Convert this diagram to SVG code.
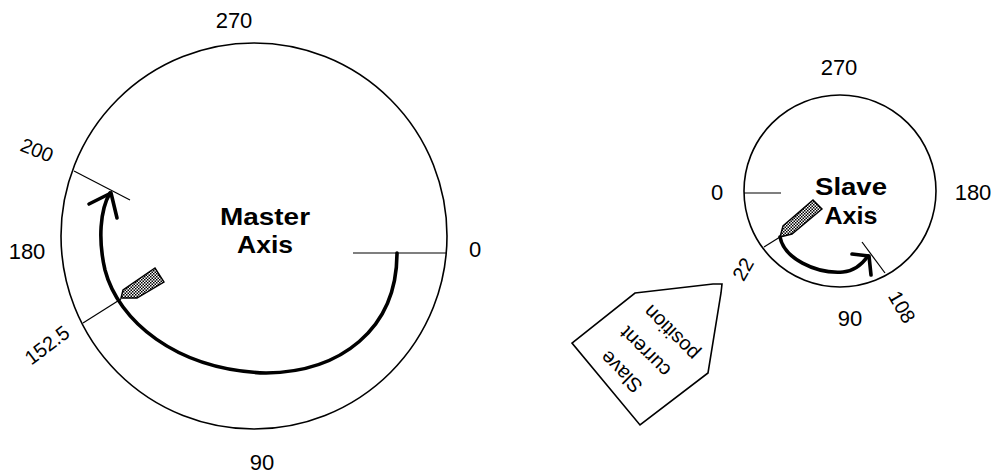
<svg xmlns="http://www.w3.org/2000/svg" width="995" height="475" viewBox="0 0 995 475">
<style>
.ring{fill:none;stroke:#000;stroke-width:1.6}
.tick{fill:none;stroke:#000;stroke-width:1.2}
.arc{fill:none;stroke:#000;stroke-width:3.6;stroke-linecap:round;stroke-linejoin:round}
.ptr{fill:url(#hatch);stroke:#000;stroke-width:1.4}
.num{font-family:"Liberation Sans",Arial,sans-serif;font-size:22px;fill:#000;text-anchor:middle}
.rot{font-family:"Liberation Sans",Arial,sans-serif;font-size:20px;fill:#000;text-anchor:middle}
.ttl{font-family:"Liberation Sans",Arial,sans-serif;font-size:24px;font-weight:bold;fill:#000;text-anchor:middle}
.cal{font-family:"Liberation Sans",Arial,sans-serif;font-size:20px;fill:#000;text-anchor:middle}
.box{fill:#fff;stroke:#000;stroke-width:1.6}
</style>
<defs>
<pattern id="hatch" width="3" height="3" patternUnits="userSpaceOnUse">
<rect width="3" height="3" fill="#fff"/>
<rect x="0" y="0" width="1.5" height="1.5" fill="#000"/>
<rect x="1.5" y="1.5" width="1.5" height="1.5" fill="#000"/>
</pattern>
</defs>

<g id="master-axis">
<circle class="ring" cx="254" cy="236" r="193"/>
<text class="ttl" x="265" y="225" textLength="90" lengthAdjust="spacingAndGlyphs">Master</text>
<text class="ttl" x="265" y="253" textLength="56" lengthAdjust="spacingAndGlyphs">Axis</text>
<text class="num" x="234" y="28">270</text>
<text class="num" x="262" y="470">90</text>
<text class="num" x="27" y="259">180</text>
<text class="num" x="475" y="257">0</text>
<g transform="translate(37,150) rotate(22)"><text class="rot" x="0" y="7">200</text></g>
<g transform="translate(47,345) rotate(-37)"><text class="rot" x="0" y="7">152.5</text></g>
<polygon class="ptr" points="121,298 123,290 155,268 164,282 137,298"/>
</g>

<g id="slave-axis">
<circle class="ring" cx="840" cy="191" r="96"/>
<text class="ttl" x="851" y="195" textLength="72" lengthAdjust="spacingAndGlyphs">Slave</text>
<text class="ttl" x="851" y="224" textLength="53" lengthAdjust="spacingAndGlyphs">Axis</text>
<text class="num" x="839" y="75">270</text>
<text class="num" x="850" y="326">90</text>
<text class="num" x="717" y="200">0</text>
<text class="num" x="973" y="200">180</text>
<g transform="translate(902,307) rotate(60)"><text class="rot" x="0" y="7">108</text></g>
<g transform="translate(743,269) rotate(-60)"><text class="rot" x="0" y="7">22</text></g>
<polygon class="ptr" points="780,237 783,226 813,200 822,209 792,234"/>
</g>

<g id="slave-position-callout">
<polygon class="box" points="635,293 713,284 722,284 721,293 708,373 640,425 572,343"/>
<g transform="translate(621,372) rotate(225)"><text class="cal" x="0" y="7">Slave</text></g>
<g transform="translate(645,352) rotate(225)"><text class="cal" x="0" y="7">current</text></g>
<g transform="translate(671,333) rotate(225)"><text class="cal" x="0" y="7">position</text></g>
</g>

<g id="connectors">
<line class="tick" x1="353" y1="253" x2="447" y2="253"/>
<line class="tick" x1="74" y1="171" x2="130" y2="200"/>
<line class="tick" x1="83" y1="323" x2="121" y2="299"/>
<path class="arc" d="M397,253 C397,330 340,372 266,373 C175,370 118,320 105,270 C98,240 100,210 110,193"/>
<polyline class="arc" points="89,204 111,193 117,218"/>
<line class="tick" x1="744" y1="193" x2="781" y2="193"/>
<line class="tick" x1="764" y1="247" x2="780" y2="237"/>
<line class="tick" x1="885" y1="273" x2="862" y2="242"/>
<path class="arc" d="M780,237 C784,258 815,274 843,272 C855,271 863,263 868,256"/>
<polyline class="arc" points="852,254 869,256 871,275"/>
</g>
</svg>
